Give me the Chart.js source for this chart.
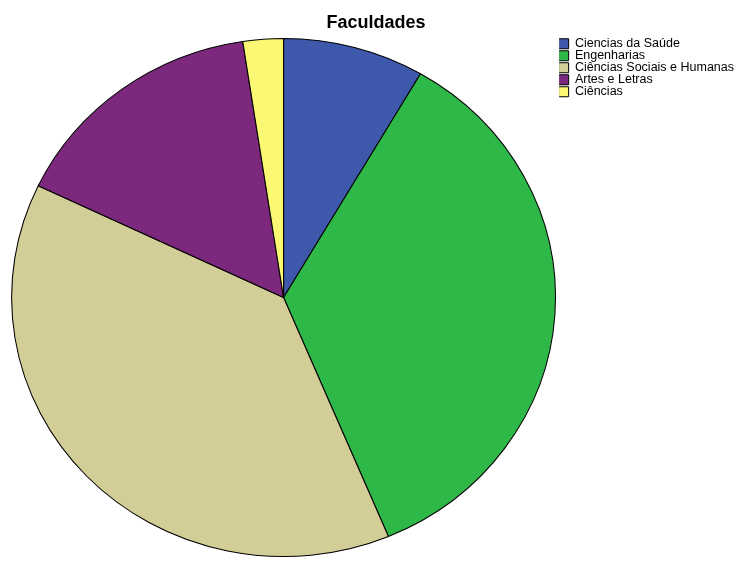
<!DOCTYPE html>
<html>
<head>
<meta charset="utf-8">
<script src="https://cdn.jsdelivr.net/npm/chart.js@4"></script>
<style>
  html, body { margin: 0; padding: 0; background: #fff; }
  #wrap { width: 737px; height: 563px; }
</style>
</head>
<body>
<div id="wrap"><canvas id="c"></canvas></div>
<script>
const categories = ["Ciencias da Saúde", "Engenharias", "Ciências Sociais e Humanas", "Artes e Letras", "Ciências"];
const percentages = [8.4, 35.3, 38.4, 15.5, 2.4];
const colors = ["#3e58ac", "#2eb848", "#d3ce97", "#7c287d", "#fbf873"];

// SPSS pies come out slightly wider than tall: stretch horizontally around the centre.
const stretchX = 273 / 260;
const ellipsePlugin = {
  id: "ellipse",
  beforeDatasetsDraw(chart) {
    const { ctx, chartArea } = chart;
    const cx = (chartArea.left + chartArea.right) / 2;
    ctx.save();
    ctx.translate(cx, 0);
    ctx.scale(stretchX, 1);
    ctx.translate(-cx, 0);
  },
  afterDatasetsDraw(chart) {
    chart.ctx.restore();
  },
};

Chart.defaults.font.family = "'Liberation Sans', Arial, sans-serif";
Chart.defaults.color = "#000";

new Chart(document.getElementById("c"), {
  type: "pie",
  data: {
    labels: categories,
    datasets: [{
      data: percentages,
      backgroundColor: colors,
      borderColor: "#000",
      borderWidth: 1,
    }],
  },
  options: {
    responsive: true,
    maintainAspectRatio: false,
    animation: false,
    layout: { padding: { left: 8, right: -7, top: 0, bottom: 6 } },
    plugins: {
      title: {
        display: true,
        text: "Faculdades",
        font: { size: 18, weight: "bold" },
        padding: { top: 12, bottom: 4.4 },
      },
      legend: {
        position: "right",
        align: "start",
        fullSize: false,
        labels: {
          boxWidth: 10,
          boxHeight: 10,
          padding: -0.5,
          font: { size: 12.5 },
          color: "#000",
        },
      },
      tooltip: { enabled: false },
    },
  },
  plugins: [ellipsePlugin],
});
</script>
</body>
</html>
